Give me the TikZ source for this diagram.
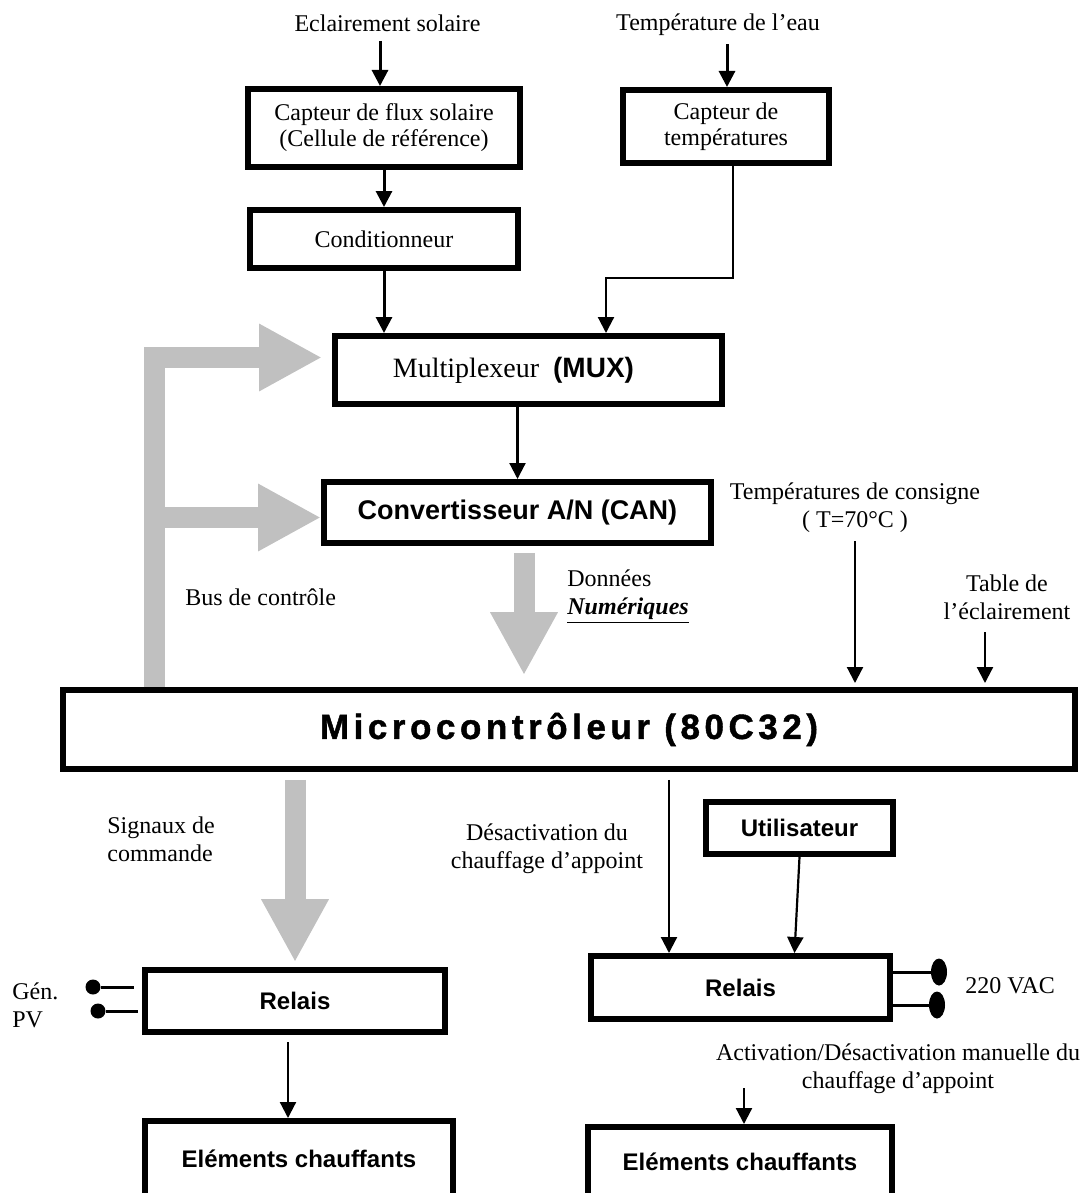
\documentclass[tikz,border=0pt]{standalone}
\usepackage{fontspec}
\setmainfont{Liberation Serif}
\setsansfont{Liberation Sans}
\newfontfamily\microfont[LetterSpace=13, FakeBold=1.3]{Liberation Sans}
\usetikzlibrary{arrows.meta,calc,shapes.geometric}
\definecolor{busgray}{HTML}{C0C0C0}
\tikzset{
  box/.style={draw, line width=2.8pt, inner sep=0pt, align=center, font=\fontsize{12}{13}\selectfont},
  sbox/.style={box, font=\sffamily\bfseries\fontsize{12}{14}\selectfont},
  lbl/.style={inner sep=0pt, align=center, font=\fontsize{12}{14}\selectfont},
  arr/.style={line width=1.5pt, -{Triangle[width=8pt,length=8pt]}},
  arrthin/.style={line width=1.1pt, -{Triangle[width=8pt,length=8pt]}},
  bus/.style={draw=busgray, line width=10.5pt, line join=miter, -{Triangle[width=31.5pt,length=31.5pt]}},
  pindot/.style={circle, fill=black, inner sep=0pt, minimum size=7.5pt},
  vacpin/.style={ellipse, fill=black, inner sep=0pt, minimum width=8pt, minimum height=13.5pt}
}
\begin{document}
\begin{tikzpicture}[x=0.5pt, y=-0.5pt]
  \path[use as bounding box, fill=white] (0,0) rectangle (1084,1193);
  \node[lbl] (eclair) at (387.5,23) {Eclairement solaire};
  \node[lbl] (eau) at (718,25) {Température de l’eau};
  \node[box, minimum width=136.2pt, minimum height=39.2pt] (flux) at (384,128) {Capteur de flux solaire\\(Cellule de référence)};
  \node[box, minimum width=103.2pt, minimum height=36.7pt] (temp) at (726,126.5) {Capteur de\\températures};
  \node[box, minimum width=134.2pt, minimum height=29.2pt] (cond) at (384,239) {Conditionneur};
  \node[box, minimum width=193.7pt, minimum height=34.2pt, font=\fontsize{14}{16}\selectfont] (mux) at (528.5,370) {Multiplexeur\ \ {\sffamily\bfseries(MUX)}\hspace{15pt}};
  \node[sbox, minimum width=193.7pt, minimum height=30.7pt, font=\sffamily\bfseries\fontsize{13.5}{16}\selectfont] (can) at (517.5,512.5) {Convertisseur A/N (CAN)};
  \node[box, minimum width=506.2pt, minimum height=39.7pt, font=\microfont\bfseries\fontsize{17.5}{20}\selectfont] (micro) at (569,729.5) {\raisebox{-2pt}{Microcontrôleur (80C32)}};
  \node[sbox, minimum width=93.7pt, minimum height=26.2pt] (util) at (799.5,828) {Utilisateur};
  \node[sbox, minimum width=150.2pt, minimum height=31.2pt] (relaisL) at (295,1001) {Relais};
  \node[sbox, minimum width=149.7pt, minimum height=31.7pt] (relaisR) at (740.5,987.5) {Relais};
  \node[sbox, minimum width=154.2pt, minimum height=41.2pt] (elemL) at (299,1162) {\raisebox{3pt}{Eléments chauffants}};
  \node[sbox, minimum width=152.2pt, minimum height=38.2pt] (elemR) at (740,1165) {\raisebox{3pt}{Eléments chauffants}};

  \node[lbl] (consigne) at (855,508) {Températures de consigne\\( T=70°C )};
  \node[lbl] (table) at (1007,597.5) {Table de\\l’éclairement};
  \node[lbl, anchor=west, align=left] (donnees) at (567,596.5) {Données\\\underline{\textbf{\textit{Numériques}}}};
  \node[lbl, anchor=west] (buslbl) at (185,597) {Bus de contrôle};
  \node[lbl, anchor=west, align=left] (signaux) at (107,839) {Signaux de\\commande};
  \node[lbl] (desact) at (547,849) {Désactivation du\\chauffage d’appoint};
  \node[lbl, anchor=west, align=left] (gen) at (12,1005) {Gén.\\PV};
  \node[lbl, anchor=west] (vac) at (965,986) {220 VAC};
  \node[lbl] (manuel) at (898,1069) {Activation/Désactivation manuelle du\\chauffage d’appoint};

  \coordinate (busbase) at (154.5,687);
  \coordinate (busmux) at (322,357.5);
  \draw[bus] (busbase) |- (busmux);
  \draw[bus] (busbase |- {$(can.west)+(0,-2.5pt)$}) -- ($(can.west)+(0,-2.5pt)$);
  \draw[bus] ($(can.south)+(3.25pt,-3.4pt)$) -- ($(can.south |- micro.north)+(3.25pt,5.9pt)$);
  \draw[bus] ($(relaisL.north |- micro.south)+(0,-3.9pt)$) -- ($(relaisL.north)+(0,2.4pt)$);

  \draw[arr] ($(eclair.south -| flux.north)+(-2pt,-4.5pt)$) -- ($(flux.north)+(-2pt,0)$);
  \draw[arr] (flux.south) -- (cond.north);
  \draw[arr] (cond.south) -- (cond.south |- mux.north);
  \draw[arr] ($(eau.south -| temp.north)+(0.5pt,-4pt)$) -- ($(temp.north)+(0.5pt,0)$);
  \coordinate (tbend) at (606,278);
  \draw[arrthin] ($(temp.south)+(3.5pt,0)$) |- (tbend) -- (tbend |- mux.north);
  \draw[arrthin] (mux.south -| can.north) -- (can.north);
  \draw[arrthin] ($(consigne.south)+(0,-4pt)$) -- ($(consigne.south |- micro.north)+(0,2pt)$);
  \draw[arrthin] ($(table.south)+(-11pt,-6pt)$) -- ($(table.south |- micro.north)+(-11pt,2pt)$);
  \draw[arrthin] ($(relaisR.north |- micro.south)+(-35.75pt,-3.9pt)$) -- ($(relaisR.north)+(-35.75pt,0)$);
  \draw[arrthin] (util.south) -- ($(relaisR.north)+(27pt,0)$);
  \draw[arrthin] ($(relaisL.south)+(-3.5pt,-3.5pt)$) -- ($(relaisL.south |- elemL.north)+(-3.5pt,0)$);
  \coordinate (manstart) at (744,1088);
  \draw[arrthin] (manstart) -- (manstart |- elemR.north);

  \node[pindot] (genA) at (93,987) {};
  \node[pindot] (genB) at (98,1011) {};
  \draw[line width=1.5pt] (genA) -- ($(genA -| relaisL.west)+(-4pt,0)$);
  \draw[line width=1.5pt] (genB) -- ($(genB -| relaisL.west)+(-2pt,0)$);
  \node[vacpin] (vacA) at (939,972) {};
  \node[vacpin] (vacB) at (937,1005) {};
  \draw[line width=1.5pt] (relaisR.east |- vacA) -- (vacA);
  \draw[line width=1.5pt] (relaisR.east |- vacB) -- (vacB);
\end{tikzpicture}
\end{document}
